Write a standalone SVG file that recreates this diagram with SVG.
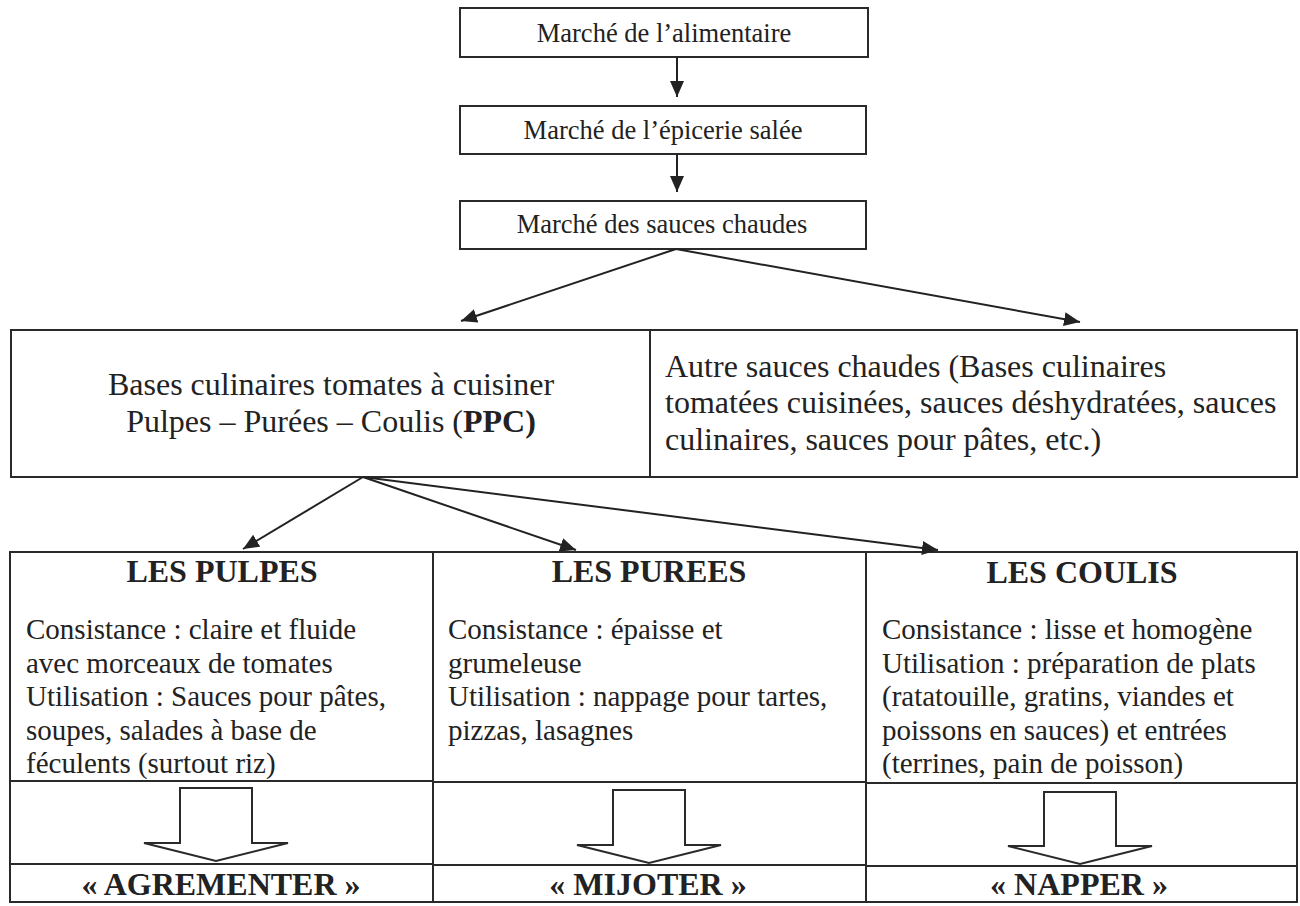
<svg xmlns="http://www.w3.org/2000/svg" width="1300" height="906" viewBox="0 0 1300 906">
<style>
.box{fill:none;stroke:#2a2a2a;stroke-width:2}
.ln{fill:none;stroke:#2a2a2a;stroke-width:2}
.conn{fill:none;stroke:#222;stroke-width:2}
.hollow{fill:#fff;stroke:#2a2a2a;stroke-width:2;stroke-linejoin:miter}
text{font-family:"Liberation Serif","Times New Roman",serif;fill:#222}
.top{font-size:26.5px;text-anchor:middle}
.mid{font-size:32px}
.body{font-size:29px}
.head{font-size:32px;font-weight:bold;text-anchor:middle}
.c{text-anchor:middle}
</style>
<defs>
<marker id="ah" markerUnits="userSpaceOnUse" markerWidth="18" markerHeight="14" refX="16" refY="7" orient="auto">
<path d="M0,0 L16,7 L0,14 z" fill="#222"/>
</marker>
</defs>
<rect x="0" y="0" width="1300" height="906" fill="#fff"/>

<g id="n-alimentaire">
<rect class="box" x="460" y="8" width="408" height="49"/>
<text class="top" x="664" y="42">Marché de l’alimentaire</text>
</g>
<g id="n-epicerie">
<rect class="box" x="460" y="106" width="406" height="48"/>
<text class="top" x="663" y="139">Marché de l’épicerie salée</text>
</g>
<g id="n-sauces">
<rect class="box" x="460" y="201" width="406" height="48"/>
<text class="top" x="662" y="233">Marché des sauces chaudes</text>
</g>

<g id="n-ppc">
<rect class="box" x="11" y="330" width="639" height="147"/>
<text class="mid c" x="331" y="395">Bases culinaires tomates à cuisiner</text>
<text class="mid c" x="331" y="432">Pulpes – Purées – Coulis (<tspan font-weight="bold">PPC)</tspan></text>
</g>
<g id="n-autres">
<rect class="box" x="650" y="330" width="647" height="147"/>
<text class="mid" x="665" y="377">Autre sauces chaudes (Bases culinaires</text>
<text class="mid" x="665" y="413">tomatées cuisinées, sauces déshydratées, sauces</text>
<text class="mid" x="665" y="450">culinaires, sauces pour pâtes, etc.)</text>
</g>

<g id="n-pulpes">
<rect class="box" x="10" y="552" width="423" height="350"/>
<line class="ln" x1="10" y1="781" x2="433" y2="781"/>
<line class="ln" x1="10" y1="864" x2="433" y2="864"/>
<text class="head" x="222" y="582">LES PULPES</text>
<text class="body" x="26" y="639">Consistance : claire et fluide</text>
<text class="body" x="26" y="673">avec morceaux de tomates</text>
<text class="body" x="26" y="706">Utilisation : Sauces pour pâtes,</text>
<text class="body" x="26" y="740">soupes, salades à base de</text>
<text class="body" x="26" y="773">féculents (surtout riz)</text>
<path class="hollow" d="M180,788 L252,788 L252,843 L288,843 L216,861 L144,843 L180,843 Z"/>
<text class="head" x="221" y="895">« AGREMENTER »</text>
</g>
<g id="n-purees">
<rect class="box" x="433" y="552" width="433" height="350"/>
<line class="ln" x1="433" y1="782" x2="866" y2="782"/>
<line class="ln" x1="433" y1="865" x2="866" y2="865"/>
<text class="head" x="649" y="582">LES PUREES</text>
<text class="body" x="448" y="639">Consistance : épaisse et</text>
<text class="body" x="448" y="673">grumeleuse</text>
<text class="body" x="448" y="706">Utilisation : nappage pour tartes,</text>
<text class="body" x="448" y="740">pizzas, lasagnes</text>
<path class="hollow" d="M613,790 L685,790 L685,845 L721,845 L649,863 L577,845 L613,845 Z"/>
<text class="head" x="648" y="895">« MIJOTER »</text>
</g>
<g id="n-coulis">
<rect class="box" x="866" y="552" width="431" height="350"/>
<line class="ln" x1="866" y1="783" x2="1297" y2="783"/>
<line class="ln" x1="866" y1="866" x2="1297" y2="866"/>
<text class="head" x="1082" y="583">LES COULIS</text>
<text class="body" x="882" y="639">Consistance : lisse et homogène</text>
<text class="body" x="882" y="673">Utilisation : préparation de plats</text>
<text class="body" x="882" y="706">(ratatouille, gratins, viandes et</text>
<text class="body" x="882" y="740">poissons en sauces) et entrées</text>
<text class="body" x="882" y="773">(terrines, pain de poisson)</text>
<path class="hollow" d="M1044,792 L1116,792 L1116,846 L1152,846 L1080,864 L1008,846 L1044,846 Z"/>
<text class="head" x="1079" y="895">« NAPPER »</text>
</g>

<g id="connectors">
<line class="conn" x1="677" y1="57" x2="677" y2="97" marker-end="url(#ah)"/>
<line class="conn" x1="677" y1="154" x2="677" y2="192" marker-end="url(#ah)"/>
<line class="conn" x1="676" y1="249" x2="461" y2="321" marker-end="url(#ah)"/>
<line class="conn" x1="676" y1="249" x2="1080" y2="322" marker-end="url(#ah)"/>
<line class="conn" x1="363" y1="477" x2="243" y2="549" marker-end="url(#ah)"/>
<line class="conn" x1="363" y1="477" x2="576" y2="550" marker-end="url(#ah)"/>
<line class="conn" x1="363" y1="477" x2="938" y2="550" marker-end="url(#ah)"/>
</g>
</svg>
